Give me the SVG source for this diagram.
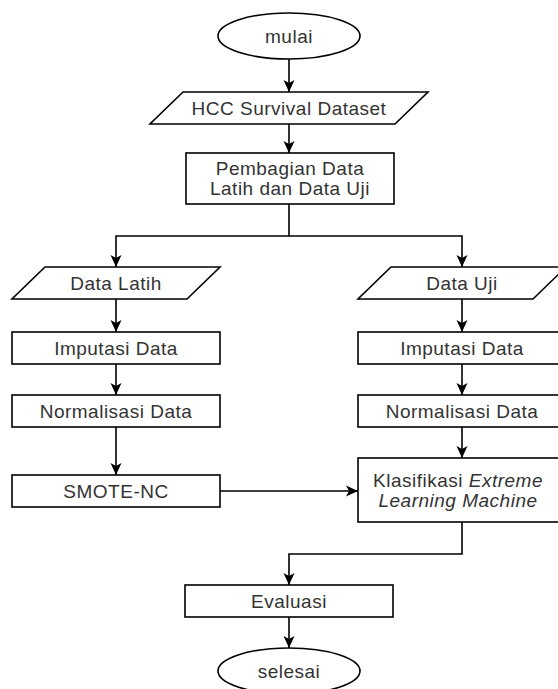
<svg xmlns="http://www.w3.org/2000/svg" width="558" height="689" viewBox="0 0 558 689">
<defs>
<style>
.shape{fill:#ffffff;stroke:#000000;stroke-width:1.6}
.lbl{font-family:"Liberation Sans",Arial,sans-serif;font-size:19px;letter-spacing:0.5px;fill:#333333;text-anchor:middle}
.conn{fill:none;stroke:#000000;stroke-width:1.6}
</style>
<marker id="arr" markerUnits="userSpaceOnUse" markerWidth="14" markerHeight="14" viewBox="0 0 14 14" refX="13" refY="7" orient="auto">
<path d="M1,1.5 L13,7 L1,12.5 L4,7 Z" fill="#000000"/>
</marker>
</defs>
<rect width="558" height="689" fill="#ffffff"/>
<g id="connectors">
<line class="conn" x1="289" y1="59" x2="289" y2="92" marker-end="url(#arr)"/>
<line class="conn" x1="289" y1="124" x2="289" y2="153" marker-end="url(#arr)"/>
<polyline class="conn" points="289,204 289,236 116,236 116,267" marker-end="url(#arr)"/>
<polyline class="conn" points="289,236 462,236 462,267" marker-end="url(#arr)"/>
<line class="conn" x1="116" y1="299" x2="116" y2="332" marker-end="url(#arr)"/>
<line class="conn" x1="116" y1="364" x2="116" y2="395" marker-end="url(#arr)"/>
<line class="conn" x1="116" y1="427" x2="116" y2="475" marker-end="url(#arr)"/>
<line class="conn" x1="462" y1="299" x2="462" y2="332" marker-end="url(#arr)"/>
<line class="conn" x1="462" y1="364" x2="462" y2="395" marker-end="url(#arr)"/>
<line class="conn" x1="462" y1="427" x2="462" y2="458" marker-end="url(#arr)"/>
<line class="conn" x1="220" y1="491" x2="358" y2="491" marker-end="url(#arr)"/>
<polyline class="conn" points="462,522 462,554 289,554 289,585" marker-end="url(#arr)"/>
<line class="conn" x1="289" y1="617" x2="289" y2="648" marker-end="url(#arr)"/>
</g>
<g id="mulai">
<ellipse class="shape" cx="289" cy="36" rx="71" ry="23"/>
<text class="lbl" x="289" y="42.8">mulai</text>
</g>
<g id="hcc-dataset">
<polygon class="shape" points="183,92 428,92 395,124 150,124"/>
<text class="lbl" x="289" y="114.8">HCC Survival Dataset</text>
</g>
<g id="pembagian">
<rect class="shape" x="186" y="153" width="208" height="51"/>
<text class="lbl" x="290" y="175.3">Pembagian Data</text>
<text class="lbl" x="290" y="195.3">Latih dan Data Uji</text>
</g>
<g id="data-latih">
<polygon class="shape" points="45,267 220,267 187,299 12,299"/>
<text class="lbl" x="116" y="289.8">Data Latih</text>
</g>
<g id="imputasi-latih">
<rect class="shape" x="12" y="332" width="208" height="32"/>
<text class="lbl" x="116" y="354.8">Imputasi Data</text>
</g>
<g id="normalisasi-latih">
<rect class="shape" x="12" y="395" width="208" height="32"/>
<text class="lbl" x="116" y="417.8">Normalisasi Data</text>
</g>
<g id="smote-nc">
<rect class="shape" x="12" y="475" width="208" height="32"/>
<text class="lbl" x="116" y="497.8">SMOTE-NC</text>
</g>
<g id="data-uji">
<polygon class="shape" points="391,267 566,267 533,299 358,299"/>
<text class="lbl" x="462" y="289.8">Data Uji</text>
</g>
<g id="imputasi-uji">
<rect class="shape" x="358" y="332" width="208" height="32"/>
<text class="lbl" x="462" y="354.8">Imputasi Data</text>
</g>
<g id="normalisasi-uji">
<rect class="shape" x="358" y="395" width="208" height="32"/>
<text class="lbl" x="462" y="417.8">Normalisasi Data</text>
</g>
<g id="klasifikasi">
<rect class="shape" x="358" y="458" width="208" height="64"/>
<text class="lbl" x="458" y="486.8">Klasifikasi <tspan font-style="italic">Extreme</tspan></text>
<text class="lbl" x="458" y="506.8" font-style="italic">Learning Machine</text>
</g>
<g id="evaluasi">
<rect class="shape" x="185" y="585" width="208" height="32"/>
<text class="lbl" x="289" y="607.8">Evaluasi</text>
</g>
<g id="selesai">
<ellipse class="shape" cx="289" cy="671" rx="71" ry="23"/>
<text class="lbl" x="289" y="677.8">selesai</text>
</g>
</svg>
